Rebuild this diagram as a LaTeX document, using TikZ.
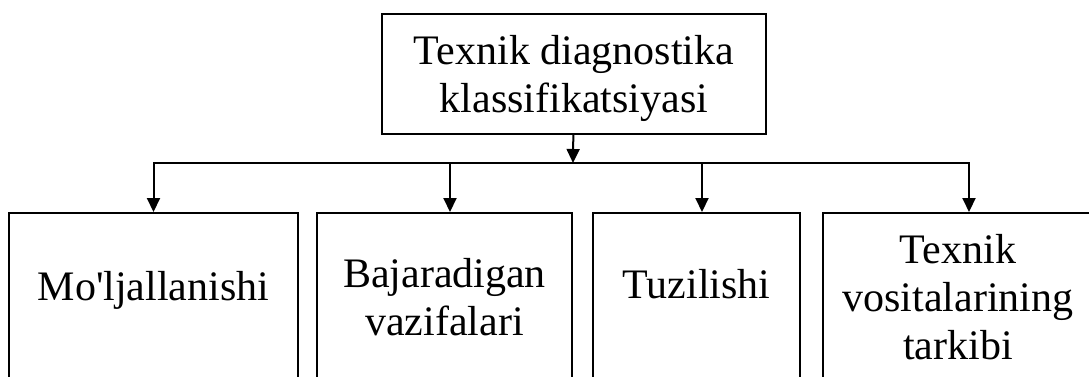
\documentclass[tikz,border=0pt]{standalone}
\usepackage{fontspec}
\setmainfont{Liberation Serif}[Ligatures=TeXOff]
\usetikzlibrary{arrows.meta,positioning}

\begin{document}
\begin{tikzpicture}[x=1pt,y=1pt,line width=2pt,>={Triangle[width=13pt,length=14pt]},
	box/.style={draw,align=center,inner sep=0pt,font=\fontsize{42}{48}\selectfont,text height=30pt},
	leaf/.style={box,minimum height=190pt}]
		\useasboundingbox (0,0) rectangle (1089,-376);
		\node (top) [box,minimum width=384pt,minimum height=120pt,text height=76pt,text depth=0pt] at (574,-74) {Texnik diagnostika\\klassifikatsiyasi};
		\node (b1) [leaf,minimum width=289pt,text depth=46pt] at (153.5,-308) {Mo'ljallanishi};
		\node (b2) [leaf,minimum width=255pt,text height=54pt,text depth=0pt,node distance=291pt,right of=b1] {Bajaradigan\\vazifalari};
		\node (b3) [leaf,minimum width=207pt,text depth=50pt,node distance=252pt,right of=b2] {Tuzilishi};
		\node (b4) [leaf,minimum width=270pt,text height=102pt,text depth=0pt,node distance=261.5pt,right of=b3] {Texnik\\vositalarining\\tarkibi};
		\coordinate (bus) at (573,-163);
		\draw[->] (top) -- (bus);
		\draw[<->] (b1.north) -- (b1.north |- bus) -- ([xshift=11pt]b4.north |- bus) -- ([xshift=11pt]b4.north);
		\draw[->] ([xshift=5.5pt]b2.north |- bus) -- ([xshift=5.5pt]b2.north);
		\draw[->] ([xshift=5.5pt]b3.north |- bus) -- ([xshift=5.5pt]b3.north);
		\end{tikzpicture}
\end{document}
